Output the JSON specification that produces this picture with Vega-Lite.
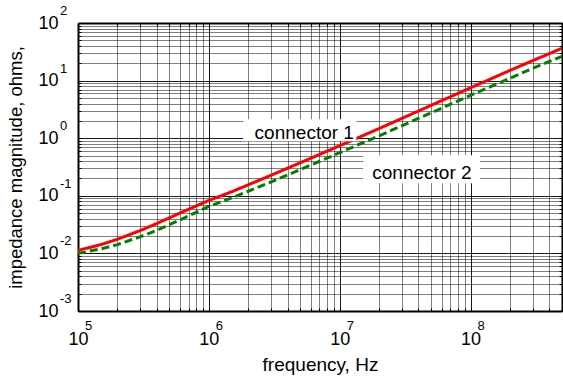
{
  "$schema": "https://vega.github.io/schema/vega-lite/v6.json",
  "width": 484,
  "height": 288,
  "autosize": "none",
  "padding": {"left": 78, "top": 23, "right": 1, "bottom": 66},
  "config": {"view": {"stroke": null}, "font": "Liberation Sans"},
  "datasets": {
    "curves": [
      {"f": 100000, "z": 0.0113, "series": "connector 1"},
      {"f": 150000, "z": 0.0142, "series": "connector 1"},
      {"f": 200000, "z": 0.0176, "series": "connector 1"},
      {"f": 300000, "z": 0.025, "series": "connector 1"},
      {"f": 400000, "z": 0.033, "series": "connector 1"},
      {"f": 600000, "z": 0.05, "series": "connector 1"},
      {"f": 1000000, "z": 0.083, "series": "connector 1"},
      {"f": 1500000, "z": 0.118, "series": "connector 1"},
      {"f": 2000000, "z": 0.155, "series": "connector 1"},
      {"f": 3000000, "z": 0.228, "series": "connector 1"},
      {"f": 5000000, "z": 0.375, "series": "connector 1"},
      {"f": 10000000, "z": 0.74, "series": "connector 1"},
      {"f": 20000000, "z": 1.47, "series": "connector 1"},
      {"f": 50000000, "z": 3.72, "series": "connector 1"},
      {"f": 100000000, "z": 7.5, "series": "connector 1"},
      {"f": 200000000, "z": 15, "series": "connector 1"},
      {"f": 300000000, "z": 22.3, "series": "connector 1"},
      {"f": 500000000, "z": 36.4, "series": "connector 1"},
      {"f": 100000, "z": 0.01, "series": "connector 2"},
      {"f": 150000, "z": 0.012, "series": "connector 2"},
      {"f": 200000, "z": 0.0142, "series": "connector 2"},
      {"f": 300000, "z": 0.0195, "series": "connector 2"},
      {"f": 400000, "z": 0.0252, "series": "connector 2"},
      {"f": 600000, "z": 0.038, "series": "connector 2"},
      {"f": 1000000, "z": 0.0655, "series": "connector 2"},
      {"f": 1500000, "z": 0.092, "series": "connector 2"},
      {"f": 2000000, "z": 0.12, "series": "connector 2"},
      {"f": 3000000, "z": 0.175, "series": "connector 2"},
      {"f": 5000000, "z": 0.285, "series": "connector 2"},
      {"f": 10000000, "z": 0.56, "series": "connector 2"},
      {"f": 20000000, "z": 1.1, "series": "connector 2"},
      {"f": 50000000, "z": 2.76, "series": "connector 2"},
      {"f": 100000000, "z": 5.56, "series": "connector 2"},
      {"f": 200000000, "z": 11.0, "series": "connector 2"},
      {"f": 300000000, "z": 16.4, "series": "connector 2"},
      {"f": 500000000, "z": 26.4, "series": "connector 2"}
    ],
    "boxes": [
      {"f1": 1830000, "f2": 13400000, "z1": 0.883, "z2": 2.13},
      {"f1": 15100000, "f2": 118000000, "z1": 0.165, "z2": 0.505}
    ],
    "labels": [
      {"f": 5360000, "z": 1.22, "text": "connector 1"},
      {"f": 42500000, "z": 0.246, "text": "connector 2"}
    ],
    "xexp": [
      {"f": 100000, "e": "5"},
      {"f": 1000000, "e": "6"},
      {"f": 10000000, "e": "7"},
      {"f": 100000000, "e": "8"}
    ],
    "yexp": [
      {"z": 0.001, "e": "-3"},
      {"z": 0.01, "e": "-2"},
      {"z": 0.1, "e": "-1"},
      {"z": 1, "e": "0"},
      {"z": 10, "e": "1"},
      {"z": 100, "e": "2"}
    ]
  },
  "resolve": {"axis": {"x": "independent", "y": "independent"}},
  "layer": [
    {
      "data": {"name": "curves"},
      "mark": {"type": "line", "strokeWidth": 3, "clip": true},
      "encoding": {
        "x": {
          "field": "f", "type": "quantitative",
          "scale": {"type": "log", "domain": [100000, 500000000], "nice": false},
          "axis": {
            "orient": "bottom",
            "values": [100000,200000,300000,400000,500000,600000,700000,800000,900000,1000000,2000000,3000000,4000000,5000000,6000000,7000000,8000000,9000000,10000000,20000000,30000000,40000000,50000000,60000000,70000000,80000000,90000000,100000000,200000000,300000000,400000000,500000000],
            "labelExpr": "abs(log(datum.value)/LN10 - round(log(datum.value)/LN10)) < 0.001 ? '10' : ''",
            "labelOverlap": false,
            "labelFlush": false,
            "labelFont": "Liberation Sans",
            "labelFontSize": 18,
            "labelColor": "#000",
            "labelBaseline": "top",
            "labelPadding": 22,
            "labelDx": -4,
            "grid": true,
            "gridColor": "#000",
            "gridWidth": 1,
            "gridOpacity": {"condition": {"test": "abs(log(datum.value)/LN10 - round(log(datum.value)/LN10)) < 0.001", "value": 0.9}, "value": 0.5},
            "ticks": true,
            "tickSize": -3,
            "tickColor": "#000",
            "domain": true,
            "domainColor": "#000",
            "domainWidth": 2,
            "title": "frequency, Hz",
            "titleFont": "Liberation Sans",
            "titleFontSize": 19,
            "titleFontWeight": "normal",
            "titleColor": "#000",
            "titlePadding": 7
          }
        },
        "y": {
          "field": "z", "type": "quantitative",
          "scale": {"type": "log", "domain": [0.001, 100], "nice": false},
          "axis": {
            "orient": "left",
            "values": [0.001,0.002,0.003,0.004,0.005,0.006,0.007,0.008,0.009,0.01,0.02,0.03,0.04,0.05,0.06,0.07,0.08,0.09,0.1,0.2,0.3,0.4,0.5,0.6,0.7,0.8,0.9,1,2,3,4,5,6,7,8,9,10,20,30,40,50,60,70,80,90,100],
            "labelExpr": "abs(log(datum.value)/LN10 - round(log(datum.value)/LN10)) < 0.001 ? '10' : ''",
            "labelOverlap": false,
            "labelFlush": false,
            "labelFont": "Liberation Sans",
            "labelFontSize": 18,
            "labelColor": "#000",
            "labelBaseline": "middle",
            "labelPadding": 23,
            "labelDy": 2,
            "grid": true,
            "gridColor": "#000",
            "gridWidth": 1,
            "gridOpacity": {"condition": {"test": "abs(log(datum.value)/LN10 - round(log(datum.value)/LN10)) < 0.001", "value": 0.9}, "value": 0.5},
            "ticks": true,
            "tickSize": -3,
            "tickColor": "#000",
            "domain": true,
            "domainColor": "#000",
            "domainWidth": 2,
            "title": "impedance magnitude, ohms,",
            "titleFont": "Liberation Sans",
            "titleFontSize": 18.5,
            "titleFontWeight": "normal",
            "titleColor": "#000",
            "titlePadding": 12
          }
        },
        "color": {
          "field": "series", "type": "nominal",
          "scale": {"domain": ["connector 1", "connector 2"], "range": ["#ff0000", "#008000"]},
          "legend": null
        },
        "strokeDash": {
          "field": "series", "type": "nominal",
          "scale": {"domain": ["connector 1", "connector 2"], "range": [[1, 0], [8, 4]]},
          "legend": null
        }
      }
    },
    {
      "data": {"name": "boxes"},
      "mark": {"type": "rect", "fill": "#ffffff", "stroke": null},
      "encoding": {
        "x": {
          "field": "f1", "type": "quantitative",
          "axis": {
            "orient": "top",
            "values": [100000,200000,300000,400000,500000,600000,700000,800000,900000,1000000,2000000,3000000,4000000,5000000,6000000,7000000,8000000,9000000,10000000,20000000,30000000,40000000,50000000,60000000,70000000,80000000,90000000,100000000,200000000,300000000,400000000,500000000],
            "labels": false, "grid": false, "ticks": true, "tickSize": -3, "tickColor": "#000",
            "domain": true, "domainColor": "#000", "domainWidth": 2, "title": null
          }
        },
        "x2": {"field": "f2"},
        "y": {
          "field": "z1", "type": "quantitative",
          "axis": {
            "orient": "right",
            "values": [0.001,0.002,0.003,0.004,0.005,0.006,0.007,0.008,0.009,0.01,0.02,0.03,0.04,0.05,0.06,0.07,0.08,0.09,0.1,0.2,0.3,0.4,0.5,0.6,0.7,0.8,0.9,1,2,3,4,5,6,7,8,9,10,20,30,40,50,60,70,80,90,100],
            "labels": false, "grid": false, "ticks": true, "tickSize": -3, "tickColor": "#000",
            "domain": true, "domainColor": "#000", "domainWidth": 2, "title": null
          }
        },
        "y2": {"field": "z2"}
      }
    },
    {
      "data": {"name": "labels"},
      "mark": {"type": "text", "font": "Liberation Sans", "fontSize": 19, "color": "#000", "align": "center", "baseline": "middle"},
      "encoding": {
        "x": {"field": "f", "type": "quantitative", "axis": null},
        "y": {"field": "z", "type": "quantitative", "axis": null},
        "text": {"field": "text"}
      }
    },
    {
      "data": {"name": "xexp"},
      "mark": {"type": "text", "font": "Liberation Sans", "fontSize": 13, "color": "#000", "align": "left", "baseline": "alphabetic", "dx": 7, "dy": 19},
      "encoding": {
        "x": {"field": "f", "type": "quantitative", "axis": null},
        "y": {"datum": 0.001, "type": "quantitative", "axis": null},
        "text": {"field": "e"}
      }
    },
    {
      "data": {"name": "yexp"},
      "mark": {"type": "text", "font": "Liberation Sans", "fontSize": 13, "color": "#000", "align": "left", "baseline": "alphabetic", "dx": -18, "dy": -8},
      "encoding": {
        "x": {"datum": 100000, "type": "quantitative", "axis": null},
        "y": {"field": "z", "type": "quantitative", "axis": null},
        "text": {"field": "e"}
      }
    }
  ]
}
